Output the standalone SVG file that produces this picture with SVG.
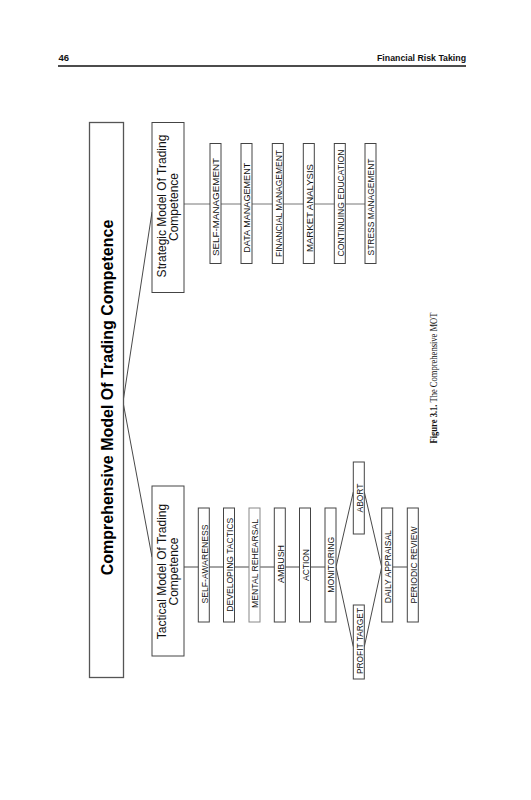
<svg xmlns="http://www.w3.org/2000/svg" width="531" height="800" viewBox="0 0 531 800">
<style>
.hdr{font-family:"Liberation Sans",Arial,sans-serif;font-weight:bold;font-size:9.5px;fill:#111}
.box{fill:#fff;stroke:#444;stroke-width:1}
.main{fill:#fff;stroke:#555;stroke-width:1.3}
.t1{font-family:"Liberation Sans",Arial,sans-serif;font-weight:bold;font-size:16px;fill:#000}
.t2{font-family:"Liberation Sans",Arial,sans-serif;font-size:12px;fill:#111}
.lb{font-family:"Liberation Sans",Arial,sans-serif;font-size:9px;fill:#111}
.ln{stroke:#333;stroke-width:0.9;fill:none}
.lg{stroke:#777;stroke-width:1;fill:none}
.cap{font-family:"Liberation Serif","Times New Roman",serif;font-size:10px;fill:#111}
</style>
<rect width="531" height="800" fill="#fff"/>
<g id="header">
<text class="hdr" x="58.5" y="61">46</text>
<text class="hdr" x="466" y="61" text-anchor="end" textLength="89" lengthAdjust="spacingAndGlyphs">Financial Risk Taking</text>
<line x1="58" y1="66" x2="466" y2="66" stroke="#111" stroke-width="1.3"/>
</g>
<g id="connectors">
<line class="ln" x1="123" y1="402" x2="152" y2="557"/>
<line class="ln" x1="123" y1="402" x2="152" y2="212"/>
<line class="lg" x1="184" y1="204" x2="366" y2="204"/>
<line class="ln" x1="184" y1="567" x2="325" y2="567"/>
<polyline class="ln" points="336,567 353.3,492"/>
<polyline class="ln" points="364.3,492 381.7,567"/>
<polyline class="ln" points="336,567 353.3,646.7"/>
<polyline class="ln" points="364.3,646.7 381.7,567"/>
<line class="ln" x1="392.7" y1="567" x2="407.3" y2="567"/>
</g>
<g id="main">
<rect class="main" x="89.5" y="122.5" width="34" height="555"/>
<text class="t1" x="113" y="397.5" transform="rotate(-90 113 397.5)" text-anchor="middle">Comprehensive Model Of Trading Competence</text>
</g>
<g id="strategic">
<rect class="box" x="152" y="122.5" width="32" height="170"/>
<text class="t2" x="166" y="206" transform="rotate(-90 166 206)" text-anchor="middle">Strategic Model Of Trading</text>
<text class="t2" x="178" y="207" transform="rotate(-90 178 207)" text-anchor="middle">Competence</text>
</g>
<g id="tactical">
<rect class="box" x="152" y="486" width="32" height="170"/>
<text class="t2" x="166" y="571.5" transform="rotate(-90 166 571.5)" text-anchor="middle">Tactical Model Of Trading</text>
<text class="t2" x="178" y="571.5" transform="rotate(-90 178 571.5)" text-anchor="middle">Competence</text>
</g>
<g id="self-management">
<rect class="box" x="210" y="143.5" width="11" height="120"/>
<text class="lb" x="219.3" y="207" transform="rotate(-90 219.3 207)" text-anchor="middle" textLength="98" lengthAdjust="spacingAndGlyphs">SELF-MANAGEMENT</text>
</g>
<g id="data-management">
<rect class="box" x="241" y="143.5" width="11" height="120"/>
<text class="lb" x="250.3" y="207.7" transform="rotate(-90 250.3 207.7)" text-anchor="middle" textLength="90" lengthAdjust="spacingAndGlyphs">DATA MANAGEMENT</text>
</g>
<g id="financial-management">
<rect class="box" x="272.3" y="143.5" width="11" height="120"/>
<text class="lb" x="281.6" y="203.5" transform="rotate(-90 281.6 203.5)" text-anchor="middle" textLength="107" lengthAdjust="spacingAndGlyphs">FINANCIAL MANAGEMENT</text>
</g>
<g id="market-analysis">
<rect class="box" x="303.3" y="143.5" width="11" height="120"/>
<text class="lb" x="312.6" y="208" transform="rotate(-90 312.6 208)" text-anchor="middle" textLength="88" lengthAdjust="spacingAndGlyphs">MARKET ANALYSIS</text>
</g>
<g id="continuing-education">
<rect class="box" x="334.3" y="143.5" width="11" height="120"/>
<text class="lb" x="343.6" y="203" transform="rotate(-90 343.6 203)" text-anchor="middle" textLength="107" lengthAdjust="spacingAndGlyphs">CONTINUING EDUCATION</text>
</g>
<g id="stress-management">
<rect class="box" x="365" y="143.5" width="11" height="120"/>
<text class="lb" x="374.3" y="207" transform="rotate(-90 374.3 207)" text-anchor="middle" textLength="97" lengthAdjust="spacingAndGlyphs">STRESS MANAGEMENT</text>
</g>
<g id="self-awareness">
<rect class="box" x="198.3" y="508" width="11" height="114"/>
<text class="lb" x="207.6" y="564" transform="rotate(-90 207.6 564)" text-anchor="middle" textLength="79" lengthAdjust="spacingAndGlyphs">SELF-AWARENESS</text>
</g>
<g id="developing-tactics">
<rect class="box" x="223.5" y="508" width="11" height="114"/>
<text class="lb" x="232.8" y="564.7" transform="rotate(-90 232.8 564.7)" text-anchor="middle" textLength="94" lengthAdjust="spacingAndGlyphs">DEVELOPING TACTICS</text>
</g>
<g id="mental-rehearsal">
<rect class="box" x="249" y="508" width="11" height="114" style="stroke:#888"/>
<text class="lb" x="258.3" y="563.5" transform="rotate(-90 258.3 563.5)" text-anchor="middle" textLength="89" lengthAdjust="spacingAndGlyphs">MENTAL REHEARSAL</text>
</g>
<g id="ambush">
<rect class="box" x="274.3" y="508" width="11" height="114"/>
<text class="lb" x="283.6" y="564" transform="rotate(-90 283.6 564)" text-anchor="middle" textLength="38" lengthAdjust="spacingAndGlyphs">AMBUSH</text>
</g>
<g id="action">
<rect class="box" x="299.5" y="508" width="11" height="114"/>
<text class="lb" x="308.8" y="565" transform="rotate(-90 308.8 565)" text-anchor="middle" textLength="32" lengthAdjust="spacingAndGlyphs">ACTION</text>
</g>
<g id="monitoring">
<rect class="box" x="325" y="508" width="11" height="114"/>
<text class="lb" x="334.3" y="564.7" transform="rotate(-90 334.3 564.7)" text-anchor="middle" textLength="56" lengthAdjust="spacingAndGlyphs">MONITORING</text>
</g>
<g id="abort">
<rect class="box" x="353.3" y="462" width="11" height="72"/>
<text class="lb" x="362.6" y="498" transform="rotate(-90 362.6 498)" text-anchor="middle" textLength="29" lengthAdjust="spacingAndGlyphs">ABORT</text>
</g>
<g id="profit-target">
<rect class="box" x="353.3" y="605" width="11" height="74"/>
<text class="lb" x="362.6" y="641" transform="rotate(-90 362.6 641)" text-anchor="middle" textLength="66" lengthAdjust="spacingAndGlyphs">PROFIT TARGET</text>
</g>
<g id="daily-appraisal">
<rect class="box" x="381.7" y="508" width="11" height="114"/>
<text class="lb" x="391" y="566.7" transform="rotate(-90 391 566.7)" text-anchor="middle" textLength="73" lengthAdjust="spacingAndGlyphs">DAILY APPRAISAL</text>
</g>
<g id="periodic-review">
<rect class="box" x="407.3" y="508" width="11" height="114"/>
<text class="lb" x="416.6" y="565" transform="rotate(-90 416.6 565)" text-anchor="middle" textLength="77" lengthAdjust="spacingAndGlyphs">PERIODIC REVIEW</text>
</g>
<g id="caption">
<text class="cap" x="437" y="443.5" transform="rotate(-90 437 443.5)" textLength="131" lengthAdjust="spacingAndGlyphs"><tspan font-weight="bold">Figure 3.1.</tspan>  The Comprehensive MOT</text>
</g>
</svg>
